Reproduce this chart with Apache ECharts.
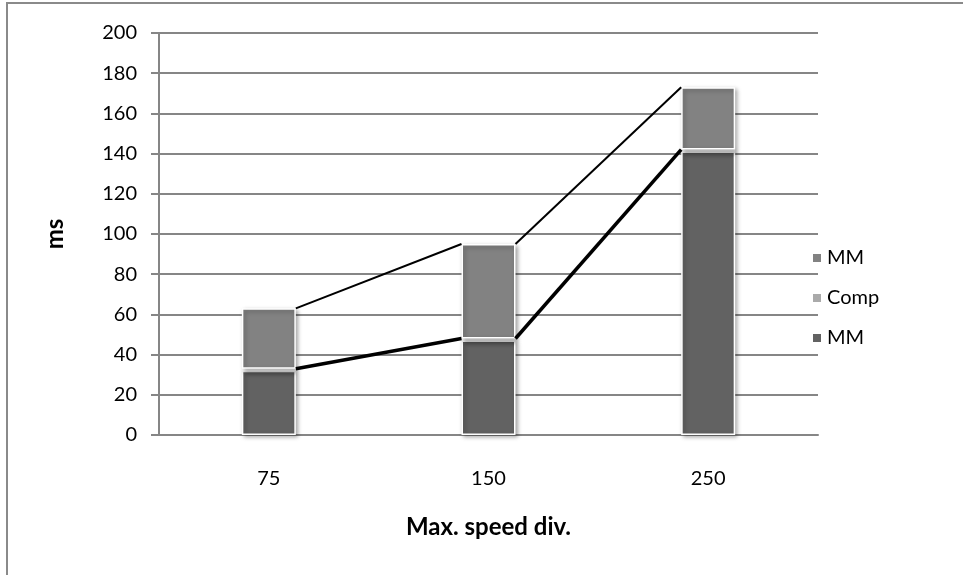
<!DOCTYPE html>
<html>
<head>
<meta charset="utf-8">
<script src="https://cdn.jsdelivr.net/npm/echarts@6/dist/echarts.min.js"></script>
<style>
  html, body { margin: 0; padding: 0; background: #fff; }
  #main { width: 963px; height: 575px; }
</style>
</head>
<body>
<div id="main"></div>
<script>
var categories = ["75", "150", "250"];
var mmBase = [32, 47, 141];
var comp = [1, 1, 1];
var mmTop = [30, 47, 31];
var yTicks = [0, 200, 20]; // min, max, interval

// tops of the stack segments, used by the series lines between bars
var baseTops = mmBase.map(function (v, i) { return v + comp[i]; });
var totals = mmBase.map(function (v, i) { return v + comp[i] + mmTop[i]; });

var barW = 54;
var font = "Lato";

function pairs(arr) {
  var out = [];
  for (var i = 0; i < arr.length - 1; i++) out.push([i, arr[i], arr[i + 1]]);
  return out;
}

function seriesLine(width) {
  return function (params, api) {
    var i = api.value(0);
    var p1 = api.coord([i, api.value(1)]);
    var p2 = api.coord([i + 1, api.value(2)]);
    return {
      type: "line",
      shape: { x1: p1[0] + barW / 2, y1: p1[1], x2: p2[0] - barW / 2, y2: p2[1] },
      style: { stroke: "#000", lineWidth: width }
    };
  };
}

var barStyle = function (color) {
  return {
    color: color,
    borderColor: "#fff",
    borderWidth: 1.5,
    shadowBlur: 4,
    shadowColor: "rgba(0,0,0,0.35)",
    shadowOffsetX: 2,
    shadowOffsetY: 2
  };
};

var option = {
  backgroundColor: "#fff",
  animation: false,
  textStyle: { fontFamily: font },
  graphic: [
    {
      type: "rect",
      shape: { x: 7, y: 3, width: 1000, height: 620 },
      style: { fill: "none", stroke: "#8a8a8a", lineWidth: 2 },
      silent: true
    }
  ],
  grid: { left: 159, right: 145, top: 33, bottom: 140 },
  legend: {
    orient: "vertical",
    left: 806,
    top: 243,
    icon: "rect",
    itemWidth: 10,
    itemHeight: 10,
    itemGap: 20,
    data: ["MM top", "Comp", "MM base"],
    formatter: function (name) { return name.split(" ")[0]; },
    textStyle: { fontFamily: font, fontSize: 20, color: "#000" }
  },
  xAxis: {
    type: "category",
    data: categories,
    name: "Max. speed div.",
    nameLocation: "middle",
    nameGap: 80,
    nameTextStyle: { fontFamily: font, fontSize: 24, fontWeight: "bold", color: "#000" },
    axisLine: { lineStyle: { color: "#868686", width: 2 } },
    axisTick: { show: false },
    axisLabel: { margin: 34, fontFamily: font, fontSize: 20, color: "#000" }
  },
  yAxis: {
    type: "value",
    min: yTicks[0],
    max: yTicks[1],
    interval: yTicks[2],
    name: "ms",
    nameLocation: "middle",
    nameGap: 92,
    nameTextStyle: { fontFamily: font, fontSize: 24, fontWeight: "bold", color: "#000" },
    axisLine: { show: true, lineStyle: { color: "#868686", width: 2 } },
    axisTick: { show: true, inside: false, length: 8, lineStyle: { color: "#868686", width: 2 } },
    splitLine: { lineStyle: { color: "#868686", width: 2 } },
    axisLabel: { margin: 22, fontFamily: font, fontSize: 20, color: "#000" }
  },
  series: [
    {
      name: "MM base",
      type: "bar",
      stack: "t",
      barWidth: barW,
      data: mmBase,
      itemStyle: barStyle("#626262")
    },
    {
      name: "Comp",
      type: "bar",
      stack: "t",
      barWidth: barW,
      data: comp,
      itemStyle: barStyle("#aaaaaa")
    },
    {
      name: "MM top",
      type: "bar",
      stack: "t",
      barWidth: barW,
      data: mmTop,
      itemStyle: barStyle("#828282")
    },
    {
      type: "custom",
      renderItem: seriesLine(3.5),
      encode: { x: 0, y: [1, 2] },
      data: pairs(baseTops),
      z: 5
    },
    {
      type: "custom",
      renderItem: seriesLine(2),
      encode: { x: 0, y: [1, 2] },
      data: pairs(totals),
      z: 5
    }
  ]
};

var myChart = echarts.init(document.getElementById("main"));
myChart.setOption(option);
</script>
</body>
</html>
